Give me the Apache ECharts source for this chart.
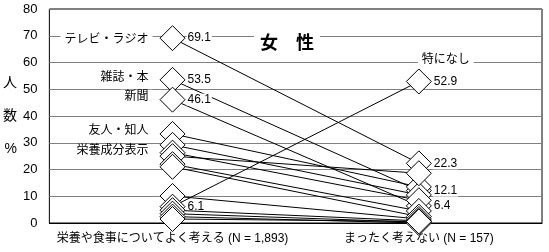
<!DOCTYPE html>
<html><head><meta charset="utf-8">
<script src="https://cdn.jsdelivr.net/npm/echarts@6/dist/echarts.min.js"></script>
<style>html,body{margin:0;padding:0;background:#fff}#c{width:549px;height:252px}</style>
</head><body><div id="c"></div>
<script>
const categories = ['栄養や食事についてよく考える (N = 1,893)', 'まったく考えない (N = 157)'];
const seriesNames = ['テレビ・ラジオ','雑誌・本','新聞','友人・知人','栄養成分表示','項目6','項目7','項目8','項目9','項目10','特になし','項目12','項目13','項目14','項目15'];
const thinkValues    = [69.1, 53.5, 46.1, 33.3, 29.2, 26.3, 25.0, 22.0, 21.0, 10.1, 6.1, 4.8, 3.5, 2.4, 1.5];
const notThinkValues = [22.3, 12.1, 6.4, 13.5, 10.5, 8.5, 18.6, 4.5, 2.4, 1.5, 52.9, 0.8, 0.3, 0.0, 0.6];
const yTicks = [0, 10, 20, 30, 40, 50, 60, 70, 80];
const leftValueLabels = [0, 1, 2, 10];
const rightValueLabels = [0, 1, 2, 10];
const leftNameLabels = [0, 1, 2, 3, 4];
const rightNameLabels = [10];
const title = '女\u3000性';
const yName = '人\n数\n%';

const FONT = "'Liberation Sans','Noto Sans CJK JP',sans-serif";
const nameOffsets = {0:[0,2],1:[0,-2],2:[0,-3],3:[0,-3],4:[0,6]};
const rightNameOffsets = {10:[27,-22]};

const series = seriesNames.map((name, i) => {
  const s = {
    type: 'line', name: name,
    data: [
      {value: thinkValues[i], label: {show: leftValueLabels.includes(i), backgroundColor: i === 10 ? 'transparent' : '#fff'}},
      {value: notThinkValues[i], label: {show: rightValueLabels.includes(i)}}
    ],
    symbol: 'diamond', symbolSize: 25,
    itemStyle: {color: '#fff', borderColor: '#000', borderWidth: 1},
    lineStyle: {color: '#000', width: 1},
    emphasis: {disabled: true},
    label: {position: 'right', distance: 1, color: '#000', fontSize: 12, fontFamily: FONT,
      backgroundColor: '#fff', padding: [0, 1], formatter: p => Number(p.value).toFixed(1)},
    z: 2
  };
  const mp = [];
  if (leftNameLabels.includes(i)) {
    mp.push({coord: [0, thinkValues[i]], label: {show: true, position: 'left', distance: 20, offset: nameOffsets[i],
      formatter: name, color: '#000', fontSize: 12, fontFamily: FONT, backgroundColor: '#fff', padding: [1, 4]}});
  }
  if (rightNameLabels.includes(i)) {
    mp.push({coord: [1, notThinkValues[i]], label: {show: true, position: 'inside', offset: rightNameOffsets[i],
      formatter: name, color: '#000', fontSize: 12, fontFamily: FONT, backgroundColor: '#fff', padding: [1, 4]}});
  }
  if (mp.length) {
    s.markPoint = {symbol: 'circle', symbolSize: 0, data: mp, silent: true, itemStyle: {color: 'transparent'}};
  }
  return s;
});

const chart = echarts.init(document.getElementById('c'), null, {renderer: 'canvas'});
chart.setOption({
  animation: false,
  textStyle: {fontFamily: FONT},
  title: {text: title, left: 254, top: 31, padding: [4, 6], backgroundColor: '#fff',
    textStyle: {fontSize: 18, fontWeight: 'bold', color: '#000', fontFamily: FONT}},
  grid: {left: 48, right: 7, top: 9, bottom: 29, show: true, borderColor: '#000', borderWidth: 1, backgroundColor: 'transparent'},
  xAxis: {type: 'category', data: categories, boundaryGap: true,
    axisLine: {show: true, lineStyle: {color: '#000'}}, axisTick: {show: false},
    axisLabel: {color: '#000', fontSize: 12, margin: 10, fontFamily: FONT, interval: 0}},
  yAxis: {type: 'value', min: yTicks[0], max: yTicks[yTicks.length - 1], interval: 10,
    name: yName, nameLocation: 'middle', nameRotate: 0, nameGap: 30,
    nameTextStyle: {color: '#000', fontSize: 14, lineHeight: 33, fontFamily: FONT},
    axisLine: {show: false}, axisTick: {show: false},
    axisLabel: {color: '#000', fontSize: 13, margin: 12, fontFamily: FONT},
    splitLine: {show: true, lineStyle: {color: '#808080', width: 1}}},
  series: series
});
</script></body></html>
